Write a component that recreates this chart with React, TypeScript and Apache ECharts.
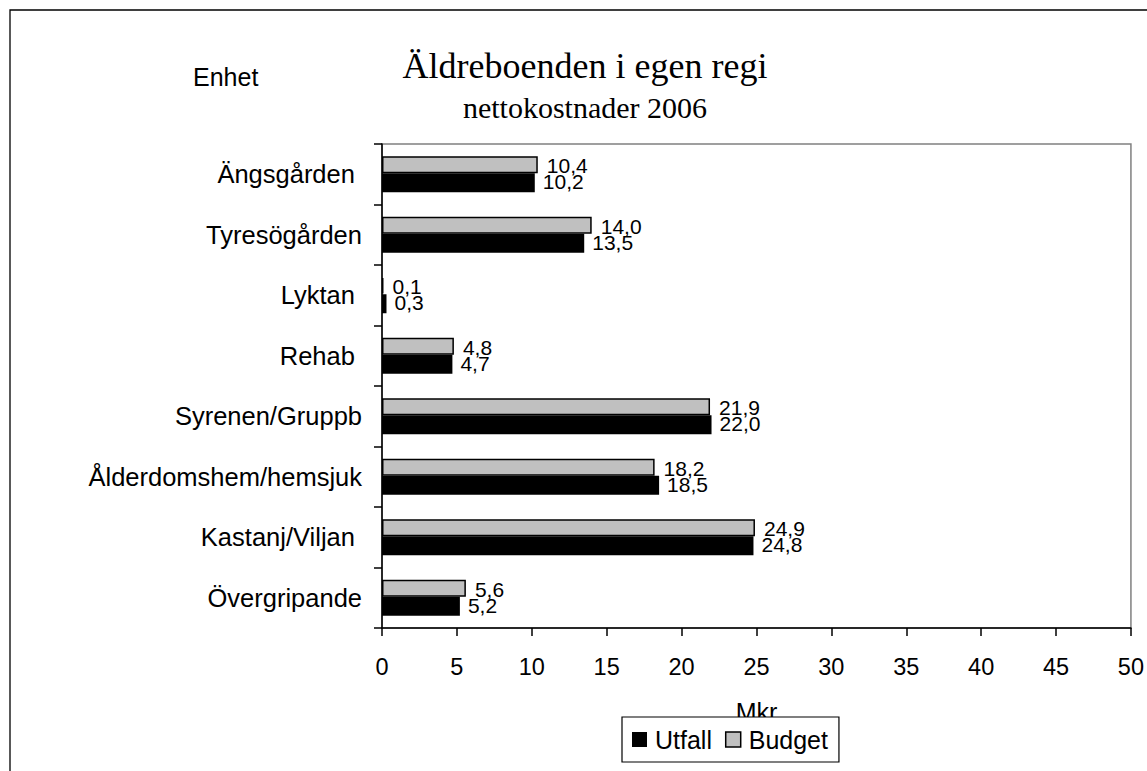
import React, { useEffect, useRef } from "react";
import * as echarts from "echarts";

const categories = [
  "Ängsgården ",
  "Tyresögården",
  "Lyktan ",
  "Rehab ",
  "Syrenen/Gruppb",
  "Ålderdomshem/hemsjuk",
  "Kastanj/Viljan ",
  "Övergripande",
];
const utfall = [10.2, 13.5, 0.3, 4.7, 22.0, 18.5, 24.8, 5.2];
const budget = [10.4, 14.0, 0.1, 4.8, 21.9, 18.2, 24.9, 5.6];
const xTicks = { min: 0, max: 50, interval: 5 };

const SANS = "'Liberation Sans', Arial, sans-serif";
const SERIF = "'Liberation Serif', 'Times New Roman', serif";
const fmt = (v: number) => v.toFixed(1).replace(".", ",");

export default function App() {
  const ref = useRef<HTMLDivElement>(null);
  useEffect(() => {
    if (!ref.current) return;
    const chart = echarts.init(ref.current, undefined, { renderer: "svg" });
    chart.setOption({
      animation: false,
      backgroundColor: "#fff",
      textStyle: { fontFamily: SANS, color: "#000" },
      graphic: [
        {
          type: "rect",
          silent: true,
          z: -1,
          shape: { x: 10, y: 10, width: 1300, height: 1000 },
          style: { fill: "none", stroke: "#000", lineWidth: 1.3 },
        },
        {
          type: "text",
          x: 585,
          y: 66,
          style: {
            text: "Äldreboenden i egen regi",
            fontFamily: SERIF,
            fontSize: 36,
            fill: "#000",
            align: "center",
            verticalAlign: "middle",
          },
        },
        {
          type: "text",
          x: 585,
          y: 107,
          style: {
            text: "nettokostnader 2006",
            fontFamily: SERIF,
            fontSize: 30,
            fill: "#000",
            align: "center",
            verticalAlign: "middle",
          },
        },
        {
          type: "text",
          x: 193,
          y: 76.5,
          style: {
            text: "Enhet",
            fontFamily: SANS,
            fontSize: 25,
            fill: "#000",
            align: "left",
            verticalAlign: "middle",
          },
        },
      ],
      grid: {
        left: 382,
        right: 13,
        top: 144,
        bottom: 143,
        show: true,
        borderColor: "#808080",
        borderWidth: 1.5,
      },
      legend: {
        left: 622,
        top: 717,
        orient: "horizontal",
        icon: "rect",
        itemWidth: 15,
        itemHeight: 15,
        itemGap: 13,
        padding: [10, 11, 10, 10],
        borderColor: "#000",
        borderWidth: 1.2,
        backgroundColor: "#fff",
        textStyle: { fontSize: 25, fontFamily: SANS, color: "#000", padding: [0, 0, 0, 3] },
        data: [
          { name: "Utfall", itemStyle: { color: "#000" } },
          { name: "Budget", itemStyle: { color: "#C0C0C0", borderColor: "#000", borderWidth: 1.5 } },
        ],
      },
      xAxis: {
        type: "value",
        min: xTicks.min,
        max: xTicks.max,
        interval: xTicks.interval,
        splitLine: { show: false },
        axisLine: { show: true, lineStyle: { color: "#000", width: 1.5 } },
        axisTick: { show: true, length: 8, lineStyle: { color: "#000", width: 1.5 } },
        axisLabel: { fontSize: 23.5, color: "#000", fontFamily: SANS, margin: 27 },
        name: "Mkr",
        nameLocation: "middle",
        nameGap: 71,
        nameTextStyle: { fontSize: 25, color: "#000", fontFamily: SANS, verticalAlign: "top" },
      },
      yAxis: {
        type: "category",
        inverse: true,
        data: categories,
        axisLine: { show: true, lineStyle: { color: "#000", width: 1.5 } },
        axisTick: { show: true, length: 8, lineStyle: { color: "#000", width: 1.5 } },
        axisLabel: { fontSize: 25.5, color: "#000", fontFamily: SANS, margin: 20 },
      },
      series: [
        {
          name: "Budget",
          type: "bar",
          data: budget,
          barWidth: 17,
          barGap: "0%",
          itemStyle: { color: "#C0C0C0", borderColor: "#000", borderWidth: 1.5 },
          label: {
            show: true,
            position: "right",
            distance: 9,
            offset: [0, 1],
            fontSize: 21,
            color: "#000",
            fontFamily: SANS,
            formatter: (p: any) => fmt(p.value),
          },
        },
        {
          name: "Utfall",
          type: "bar",
          data: utfall,
          barWidth: 19,
          barGap: "0%",
          itemStyle: { color: "#000" },
          label: {
            show: true,
            position: "right",
            distance: 8,
            offset: [0, -1],
            fontSize: 21,
            color: "#000",
            fontFamily: SANS,
            formatter: (p: any) => fmt(p.value),
          },
        },
      ],
    });
    return () => chart.dispose();
  }, []);
  return (
    <div
      ref={ref}
      style={{ position: "fixed", left: 0, top: 0, width: 1147, height: 771 }}
    />
  );
}
